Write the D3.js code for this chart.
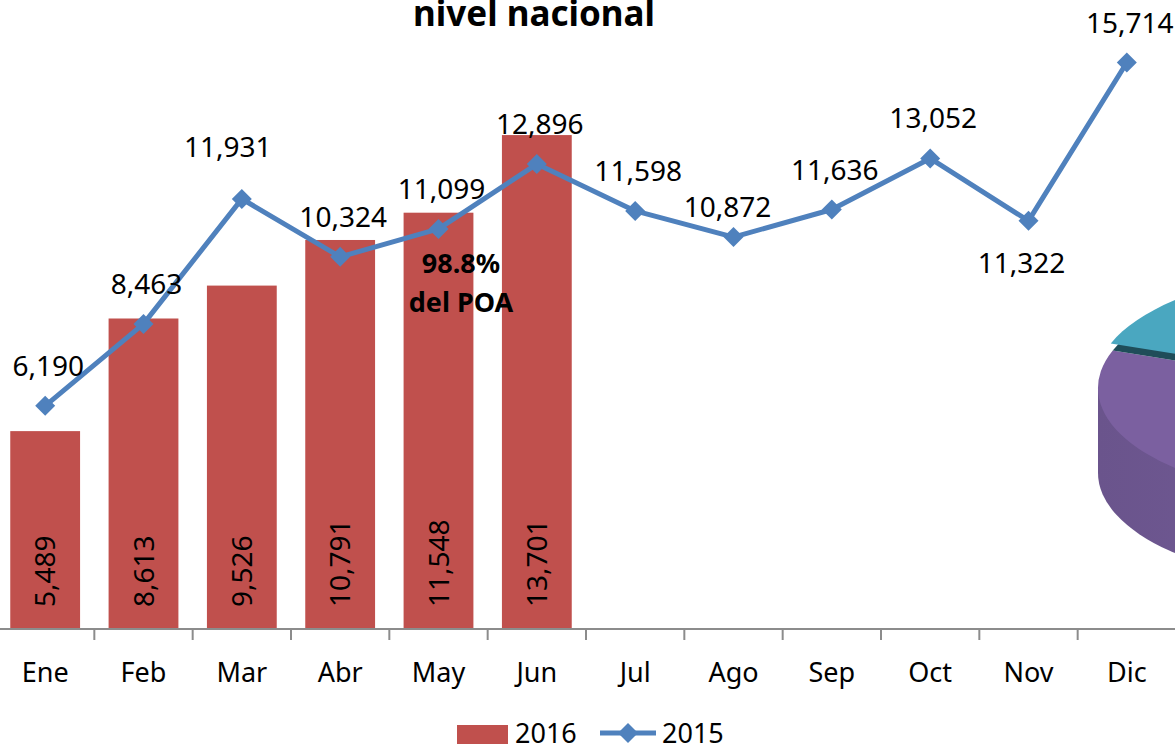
<!DOCTYPE html>
<html>
<head>
<meta charset="utf-8">
<script src="https://cdn.jsdelivr.net/npm/d3@7"></script>
<style>
  body { margin: 0; background: #fff; overflow: hidden; }
  text { font-family: "Noto Sans", sans-serif; fill: #000; }
</style>
</head>
<body>
<script>
// Chart data
let months = ['Ene', 'Feb', 'Mar', 'Abr', 'May', 'Jun', 'Jul', 'Ago', 'Sep', 'Oct', 'Nov', 'Dic'];
let values2016 = [5489, 8613, 9526, 10791, 11548, 13701];
let values2015 = [6190, 8463, 11931, 10324, 11099, 12896, 11598, 10872, 11636, 13052, 11322, 15714];
let seriesNames = ['2016', '2015'];
let titleText = 'nivel nacional';
let noteLines = ['98.8%', 'del POA'];

// Dimensions
let svgWidth = 1175;
let svgHeight = 744;
let baseY = 629;
let barColor = '#c0504d';
let lineColor = '#4f81bd';
let fmt = d3.format(',');

let svg = d3.select('body')
            .append('svg')
            .attr('width', svgWidth)
            .attr('height', svgHeight);

// Scales
let x = d3.scaleBand()
          .domain(months)
          .range([-4, 1176])
          .paddingInner(0.29)
          .paddingOuter(0.145);
let y = d3.scaleLinear().domain([0, 17448]).range([baseY, 0]);
let bw = x.bandwidth();
let cx = m => x(m) + bw / 2;

/*******************************************************************************/
// Piece of the neighbouring 3D pie, cut by the right edge
let pie = { cx: 1343, cy: 388, rx: 245, ry: 110, depth: 85 };
let k = pie.ry / pie.rx;
let rad = Math.PI / 180;
let arc = d3.arc().innerRadius(0).outerRadius(pie.rx);
let defs = svg.append('defs');
let sideGrad = defs.append('linearGradient').attr('id', 'side');
sideGrad.append('stop').attr('offset', '0%').attr('stop-color', '#6a548c');
sideGrad.append('stop').attr('offset', '100%').attr('stop-color', '#7a61a0');

let pieG = svg.append('g');
pieG.append('g')
    .attr('transform', `translate(${pie.cx}, ${pie.cy + pie.depth}) scale(1, ${k})`)
    .append('path')
    .attr('d', arc({ startAngle: 90 * rad, endAngle: 270 * rad }))
    .attr('fill', 'url(#side)');
pieG.append('rect')
    .attr('x', pie.cx - pie.rx)
    .attr('y', pie.cy)
    .attr('width', pie.rx * 2)
    .attr('height', pie.depth)
    .attr('fill', 'url(#side)');
let pieTop = pieG.append('g')
                 .attr('transform', `translate(${pie.cx}, ${pie.cy}) scale(1, ${k})`);
pieTop.append('path')
      .attr('d', arc({ startAngle: 110 * rad, endAngle: 290 * rad }))
      .attr('fill', '#7b60a0');
pieTop.append('path')
      .attr('d', arc({ startAngle: -70 * rad, endAngle: 40 * rad }))
      .attr('fill', '#1f4d59');
pieTop.append('path')
      .attr('transform', `translate(-2, ${-7 / k})`)
      .attr('d', arc({ startAngle: -70 * rad, endAngle: 40 * rad }))
      .attr('fill', '#4aa7c0');

/*******************************************************************************/
// Title (first line is cut off above the picture)
svg.append('text')
   .attr('x', 534)
   .attr('y', 26)
   .attr('text-anchor', 'middle')
   .attr('font-size', 35)
   .attr('font-weight', 'bold')
   .text(titleText);

// Bars for 2016
let bars = values2016.map((v, i) => ({ m: months[i], v: v }));
svg.selectAll('rect.bar')
   .data(bars)
   .enter()
   .append('rect')
   .attr('class', 'bar')
   .attr('x', d => x(d.m))
   .attr('y', d => y(d.v))
   .attr('width', bw)
   .attr('height', d => baseY - y(d.v))
   .attr('fill', barColor);

// Rotated labels inside the bars
svg.selectAll('text.barLabel')
   .data(bars)
   .enter()
   .append('text')
   .attr('class', 'barLabel')
   .attr('transform', d => `translate(${cx(d.m)}, 607) rotate(-90)`)
   .attr('dy', '0.36em')
   .attr('font-size', 28)
   .text(d => fmt(d.v));

// Category axis
let axisG = svg.append('g');
axisG.append('line')
     .attr('x1', 0).attr('x2', svgWidth)
     .attr('y1', baseY).attr('y2', baseY)
     .attr('stroke', '#8c8c8c')
     .attr('stroke-width', 2);
axisG.selectAll('line.tick')
     .data(months.slice(1))
     .enter()
     .append('line')
     .attr('class', 'tick')
     .attr('x1', d => x(d) - x.step() * x.paddingInner() / 2)
     .attr('x2', d => x(d) - x.step() * x.paddingInner() / 2)
     .attr('y1', baseY)
     .attr('y2', baseY + 11)
     .attr('stroke', '#8c8c8c')
     .attr('stroke-width', 2);
axisG.selectAll('text')
     .data(months)
     .enter()
     .append('text')
     .attr('x', d => cx(d))
     .attr('y', 682)
     .attr('text-anchor', 'middle')
     .attr('font-size', 27)
     .text(d => d);

// Line for 2015
let points = values2015.map((v, i) => ({ m: months[i], v: v }));
let line = d3.line().x(d => cx(d.m)).y(d => y(d.v));
svg.append('path')
   .datum(points)
   .attr('d', line)
   .attr('fill', 'none')
   .attr('stroke', lineColor)
   .attr('stroke-width', 5)
   .attr('stroke-linejoin', 'round');
let diamond = d3.symbol(d3.symbolSquare, 200);
svg.selectAll('path.marker')
   .data(points)
   .enter()
   .append('path')
   .attr('class', 'marker')
   .attr('d', diamond)
   .attr('transform', d => `translate(${cx(d.m)}, ${y(d.v)}) rotate(45)`)
   .attr('fill', lineColor);

// Value labels for the line, a few moved by hand as in the original
let labelMove = { Mar: [-14, -42], Ago: [-6, -20], Nov: [-7, 52] };
svg.selectAll('text.lineLabel')
   .data(points)
   .enter()
   .append('text')
   .attr('class', 'lineLabel')
   .attr('x', d => cx(d.m) + (labelMove[d.m] ? labelMove[d.m][0] : 3))
   .attr('y', d => y(d.v) + (labelMove[d.m] ? labelMove[d.m][1] : -30))
   .attr('text-anchor', 'middle')
   .attr('font-size', 28)
   .text(d => fmt(d.v));

// Note over the May bar
svg.selectAll('text.note')
   .data(noteLines)
   .enter()
   .append('text')
   .attr('class', 'note')
   .attr('x', 461)
   .attr('y', (d, i) => 273 + i * 39)
   .attr('text-anchor', 'middle')
   .attr('font-size', 27)
   .attr('font-weight', 'bold')
   .text(d => d);

// Legend
let legend = svg.append('g');
legend.append('rect')
      .attr('x', 457).attr('y', 725)
      .attr('width', 51).attr('height', 20)
      .attr('fill', barColor);
legend.append('text')
      .attr('x', 515).attr('y', 743)
      .attr('font-size', 27)
      .text(seriesNames[0]);
legend.append('line')
      .attr('x1', 600).attr('x2', 656)
      .attr('y1', 733).attr('y2', 733)
      .attr('stroke', lineColor)
      .attr('stroke-width', 5);
legend.append('path')
      .attr('d', diamond)
      .attr('transform', 'translate(628, 733) rotate(45)')
      .attr('fill', lineColor);
legend.append('text')
      .attr('x', 662).attr('y', 743)
      .attr('font-size', 27)
      .text(seriesNames[1]);
</script>
</body>
</html>
